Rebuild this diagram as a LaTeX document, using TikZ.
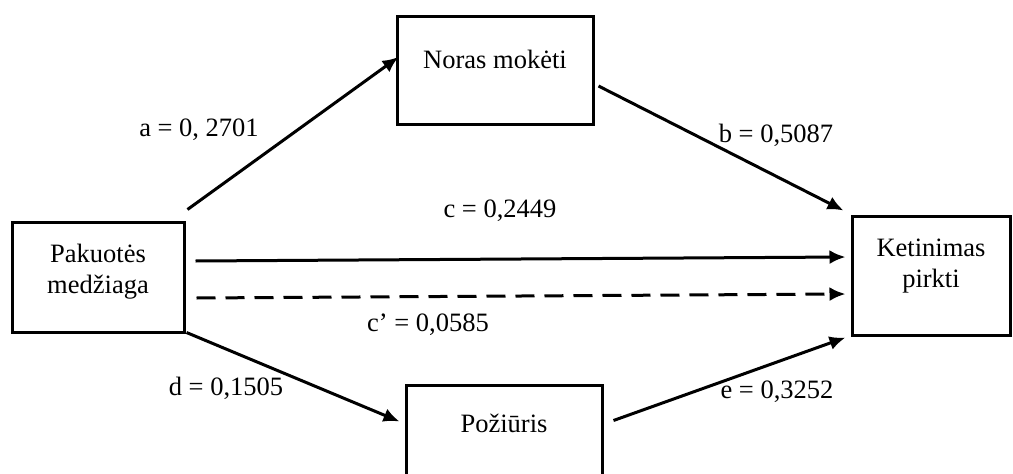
\documentclass[tikz,border=0pt]{standalone}
\usepackage{fontspec}
\setmainfont{Liberation Serif}
\usetikzlibrary{arrows.meta}

\begin{document}
\begin{tikzpicture}[
  x=1pt,y=-1pt,
  box/.style={draw,line width=3pt,align=center,inner sep=0pt,font=\fontsize{26.5}{31}\selectfont},
  lbl/.style={anchor=base,inner sep=0pt,font=\fontsize{26.5}{31}\selectfont},
  arrow/.style={-{Latex[length=16pt,width=14pt]},line width=3pt}
]
\clip (0,0) rectangle (1013,474);
\node[box,minimum width=172,minimum height=110,text depth=16] (pak) at (98,277) {Pakuotės\\medžiaga};
\node[box,minimum width=196,minimum height=108,text height=19,text depth=23] (nor) at (495,70) {Noras mokėti};
\node[box,minimum width=158,minimum height=119,text depth=25] (ket) at (931,275.5) {Ketinimas\\pirkti};
\node[box,minimum width=196,minimum height=130,text height=19,text depth=55] (poz) at (504,450) {Požiūris};
% coefficients
\node[lbl] (la) at (199,136) {a = 0, 2701};
\node[lbl] (lb) at (776,142) {b = 0,5087};
\node[lbl] (lc) at (500,217) {c = 0,2449};
\node[lbl] (lcc) at (428,331) {c’ = 0,0585};
\node[lbl] (ld) at (226,395) {d = 0,1505};
\node[lbl] (le) at (777,398) {e = 0,3252};
% paths
\draw[arrow] ([shift={(2,-11)}]pak.north east) -- ([shift={(3,-13)}]nor.west);
\draw[arrow] ([shift={(4,16)}]nor.east) -- ([shift={(-7,-4)}]ket.north west);
\draw[arrow] ([shift={(10,-16)}]pak.east) -- ([shift={(-5,-18.5)}]ket.west);
\draw[arrow,dash pattern=on 19pt off 10pt] ([shift={(11,21)}]pak.east) -- ([shift={(-5,18.5)}]ket.west);
\draw[arrow] ([shift={(1,-1)}]pak.south east) -- ([shift={(-5,38)}]poz.north west);
\draw[arrow] ([shift={(10,37)}]poz.north east) -- ([shift={(-5,1)}]ket.south west);
\end{tikzpicture}
\end{document}
